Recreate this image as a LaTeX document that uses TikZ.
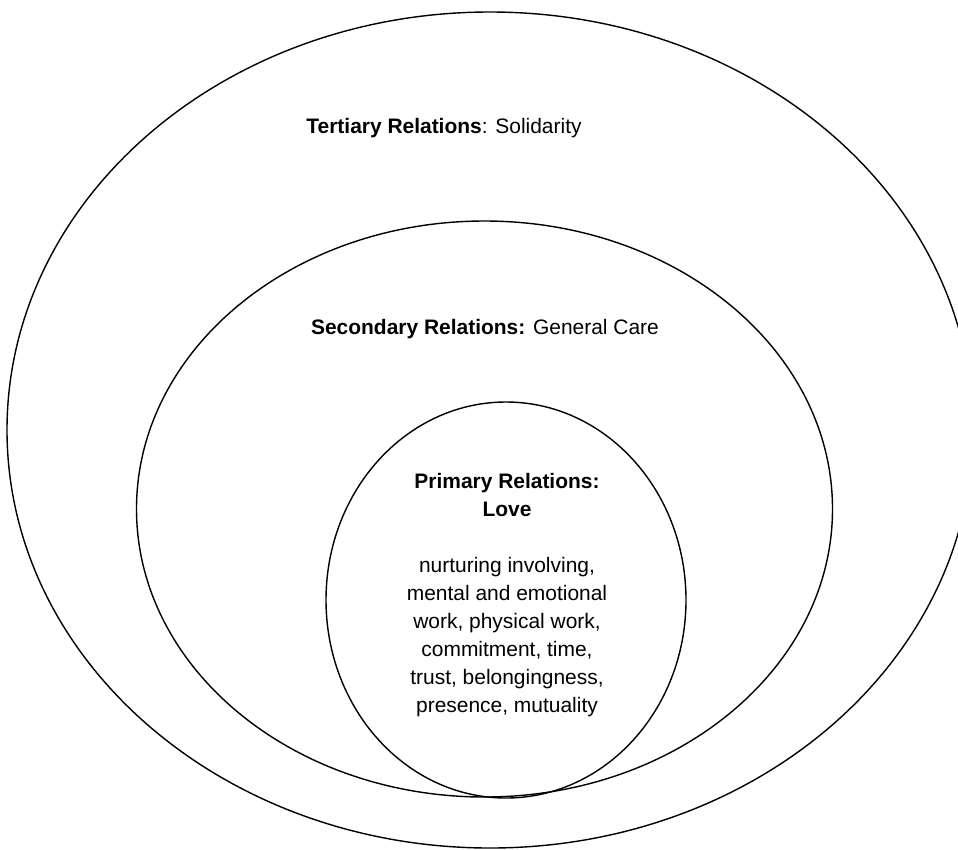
\documentclass[tikz,border=0pt]{standalone}
\usepackage{fontspec}
\setmainfont{Liberation Sans}
\usepackage{tikz}

\tikzset{
  txt/.style = {font = \fontsize{14.9}{19.9}\selectfont, inner sep = 0pt, align = center}
}

\begin{document}
\begin{tikzpicture}[x = 0.025cm, y = -0.025cm, line width = 1pt]
  %画边界
  \useasboundingbox (0, 0) rectangle (958, 849);
  %画三个椭圆
  \draw (490, 430) ellipse [x radius = 483, y radius = 418];
  \draw (484.5, 509) ellipse [x radius = 348, y radius = 288];
  \draw (506, 600) ellipse [x radius = 180, y radius = 198];
  %标注文字
  \node[txt, anchor = base] (tertiary) at (444, 133) {\textbf{Tertiary Relations}: Solidarity};
  \node[txt, anchor = base] (secondary) at (485, 334) {\textbf{Secondary Relations:} General Care};
  \node[txt, anchor = north] (primary) at (507, 473) {\textbf{Primary Relations:}\\ \textbf{Love}\\[19.9pt]
    nurturing involving,\\ mental and emotional\\ work, physical work,\\
    commitment, time,\\ trust, belongingness,\\ presence, mutuality};
\end{tikzpicture}
\end{document}
